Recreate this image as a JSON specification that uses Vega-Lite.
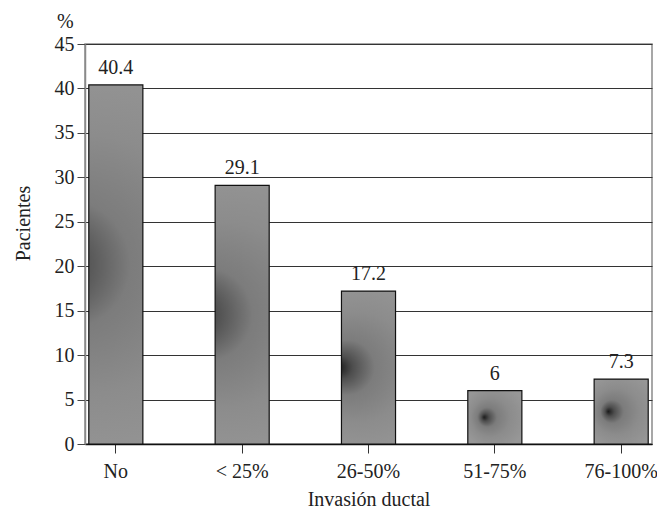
{
  "$schema": "https://vega.github.io/schema/vega-lite/v6.json",
  "autosize": {"type": "none"},
  "padding": {"left": 85, "top": 44, "right": 5, "bottom": 66},
  "width": 567,
  "height": 400,
  "background": "white",
  "config": {
    "font": "Liberation Serif",
    "view": {"stroke": "#8a8a8a", "strokeWidth": 1.5},
    "title": {"font": "Liberation Serif", "fontSize": 20, "fontWeight": "normal", "color": "#222"}
  },
  "title": {"text": "%", "anchor": "start", "frame": "group", "dx": -28, "dy": 22, "offset": 8, "baseline": "alphabetic"},
  "data": {
    "values": [
      {"invasion": "No", "pacientes": 40.4},
      {"invasion": "< 25%", "pacientes": 29.1},
      {"invasion": "26-50%", "pacientes": 17.2},
      {"invasion": "51-75%", "pacientes": 6},
      {"invasion": "76-100%", "pacientes": 7.3}
    ]
  },
  "encoding": {
    "x": {
      "field": "invasion",
      "type": "nominal",
      "sort": null,
      "scale": {"paddingInner": 0.572, "paddingOuter": 0.03},
      "axis": {
        "title": "Invasión ductal",
        "labelAngle": 0,
        "labelFont": "Liberation Serif",
        "labelFontSize": 20,
        "labelColor": "#222",
        "labelPadding": 8,
        "tickSize": 9,
        "tickColor": "#333",
        "domainColor": "#111",
        "domainWidth": 1.5,
        "titleFont": "Liberation Serif",
        "titleFontSize": 20,
        "titleFontWeight": "normal",
        "titleColor": "#222",
        "titlePadding": 8
      }
    },
    "y": {
      "field": "pacientes",
      "type": "quantitative",
      "scale": {"domain": [0, 45], "nice": false},
      "axis": {
        "title": "Pacientes",
        "values": [0, 5, 10, 15, 20, 25, 30, 35, 40, 45],
        "labelFont": "Liberation Serif",
        "labelFontSize": 20,
        "labelColor": "#222",
        "labelPadding": 3,
        "tickSize": 8,
        "tickColor": "#444",
        "domainColor": "#8a8a8a",
        "domainWidth": 1.5,
        "grid": true,
        "gridColor": "#333",
        "gridWidth": 1.2,
        "titleFont": "Liberation Serif",
        "titleFontSize": 20,
        "titleFontWeight": "normal",
        "titleColor": "#222",
        "titleX": -62,
        "titleY": 179,
        "titleAngle": -90,
        "titleAlign": "center",
        "titleBaseline": "middle"
      }
    }
  },
  "layer": [
    {
      "mark": {
        "type": "bar",
        "stroke": "#111",
        "strokeWidth": 1.2,
        "color": {
          "gradient": "radial",
          "x1": 0.3, "y1": 0.5, "r1": 0,
          "x2": 0.5, "y2": 0.5, "r2": 0.6,
          "stops": [
            {"offset": 0, "color": "#1a1a1a"},
            {"offset": 0.12, "color": "#4e4e4e"},
            {"offset": 0.3, "color": "#7c7c7c"},
            {"offset": 0.6, "color": "#8c8c8c"},
            {"offset": 1, "color": "#979797"}
          ]
        }
      }
    },
    {
      "mark": {"type": "text", "baseline": "alphabetic", "dy": -11, "font": "Liberation Serif", "fontSize": 20, "color": "#222"},
      "encoding": {"text": {"field": "pacientes", "type": "quantitative"}}
    }
  ]
}
